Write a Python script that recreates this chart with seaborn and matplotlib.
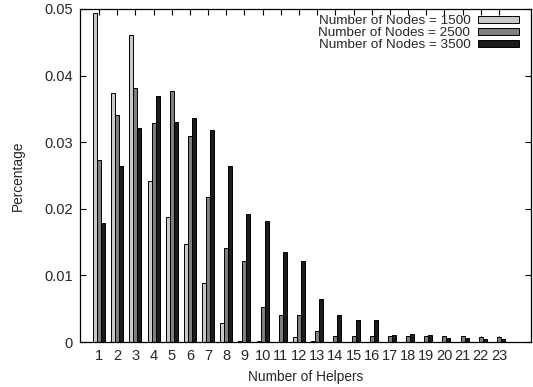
import pandas as pd
import matplotlib
matplotlib.use("Agg")
import matplotlib.pyplot as plt
import seaborn as sns

# values
helpers = [str(i) for i in range(1, 24)]
nodes_1500 = [0.0494, 0.0374, 0.0461, 0.0241, 0.0187, 0.0147, 0.0088, 0.0028, 0.0002, 0.0001,
              0.0000, 0.00075, 0.0001, 0.0000, 0.0000, 0.0000, 0.0000, 0.0000, 0.0000, 0.0000,
              0.0000, 0.0000, 0.0000]
nodes_2500 = [0.0273, 0.0341, 0.0381, 0.0329, 0.0377, 0.0309, 0.0217, 0.0141, 0.0121, 0.0053,
              0.0041, 0.0041, 0.0017, 0.0009, 0.0009, 0.0009, 0.0009, 0.0009, 0.0009, 0.0009,
              0.0009, 0.0008, 0.0008]
nodes_3500 = [0.0178, 0.0265, 0.0321, 0.0369, 0.0330, 0.0336, 0.0318, 0.0264, 0.0192, 0.0181,
              0.0135, 0.0121, 0.0064, 0.0041, 0.0033, 0.0033, 0.0010, 0.00125, 0.0010, 0.00065,
              0.00065, 0.0004, 0.0004]
series = ["Number of Nodes = 1500", "Number of Nodes = 2500", "Number of Nodes = 3500"]
colors = ["#c9c9c9", "#7f7f7f", "#1b1b1b"]

df = pd.DataFrame({
    "helpers": helpers * 3,
    "value": nodes_1500 + nodes_2500 + nodes_3500,
    "series": [series[0]] * 23 + [series[1]] * 23 + [series[2]] * 23,
})

sns.set_style("ticks")
plt.rcParams["font.family"] = ["Liberation Sans", "DejaVu Sans"]

fig = plt.figure(figsize=(5.33, 3.87), dpi=100)
ax = fig.add_axes([80 / 533, 45 / 387, 451 / 533, 333 / 387])

sns.barplot(data=df, x="helpers", y="value", hue="series", order=helpers,
            hue_order=series, palette=colors, width=0.66, gap=0,
            edgecolor="black", linewidth=0.7, saturation=1, ax=ax)

ax.set_xlim(-1.045, 23.76)
ax.set_ylim(0, 0.05)
ax.set_yticks([0, 0.01, 0.02, 0.03, 0.04, 0.05])
ax.set_yticklabels(["0", "0.01", "0.02", "0.03", "0.04", "0.05"])
ax.tick_params(direction="in", length=4.3, width=0.8, top=True, right=True,
               labelsize=10.5, pad=5, color="black")
for s in ax.spines.values():
    s.set_linewidth(0.9)
    s.set_color("black")

ax.set_xlabel("Number of Helpers", fontsize=9.9, labelpad=5)
ax.set_ylabel("Percentage", fontsize=9.9, labelpad=14)

ax.legend(loc="upper right", bbox_to_anchor=(0.985, 0.997), frameon=False,
          markerfirst=False, fontsize=9.7, handlelength=3.0, handleheight=0.4,
          handletextpad=0.6, labelspacing=0.0, borderaxespad=0)

fig.savefig("out.png", dpi=100)
